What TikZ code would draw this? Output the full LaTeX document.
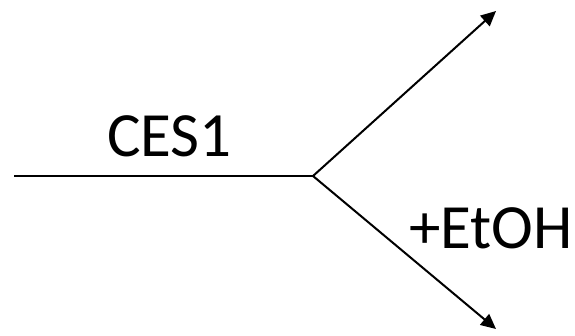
\documentclass[tikz,border=0pt]{standalone}
\usepackage{fontspec}
\setmainfont{Carlito}
\usetikzlibrary{arrows.meta}
\begin{document}
\begin{tikzpicture}[x=1pt,y=1pt,
  conn/.style={line width=2pt},
  arr/.style={conn,-{Triangle[length=15pt,width=14pt]}},
  lbl/.style={font=\fontsize{63}{63}\selectfont,inner sep=0pt,anchor=base west}]
\useasboundingbox (0,0) rectangle (575,336);
\coordinate (s) at (14,160);
\coordinate (j) at (313,160);
\coordinate (u) at (496,325);
\coordinate (d) at (496,7);
\draw[conn] (s) -- (j);
\draw[arr] (j) -- (u);
\draw[arr] (j) -- (d);
\node[lbl] (ces) at (107,179) {CES1};
\node[lbl] (etoh) at (409,87) {+EtOH};
\end{tikzpicture}
\end{document}
